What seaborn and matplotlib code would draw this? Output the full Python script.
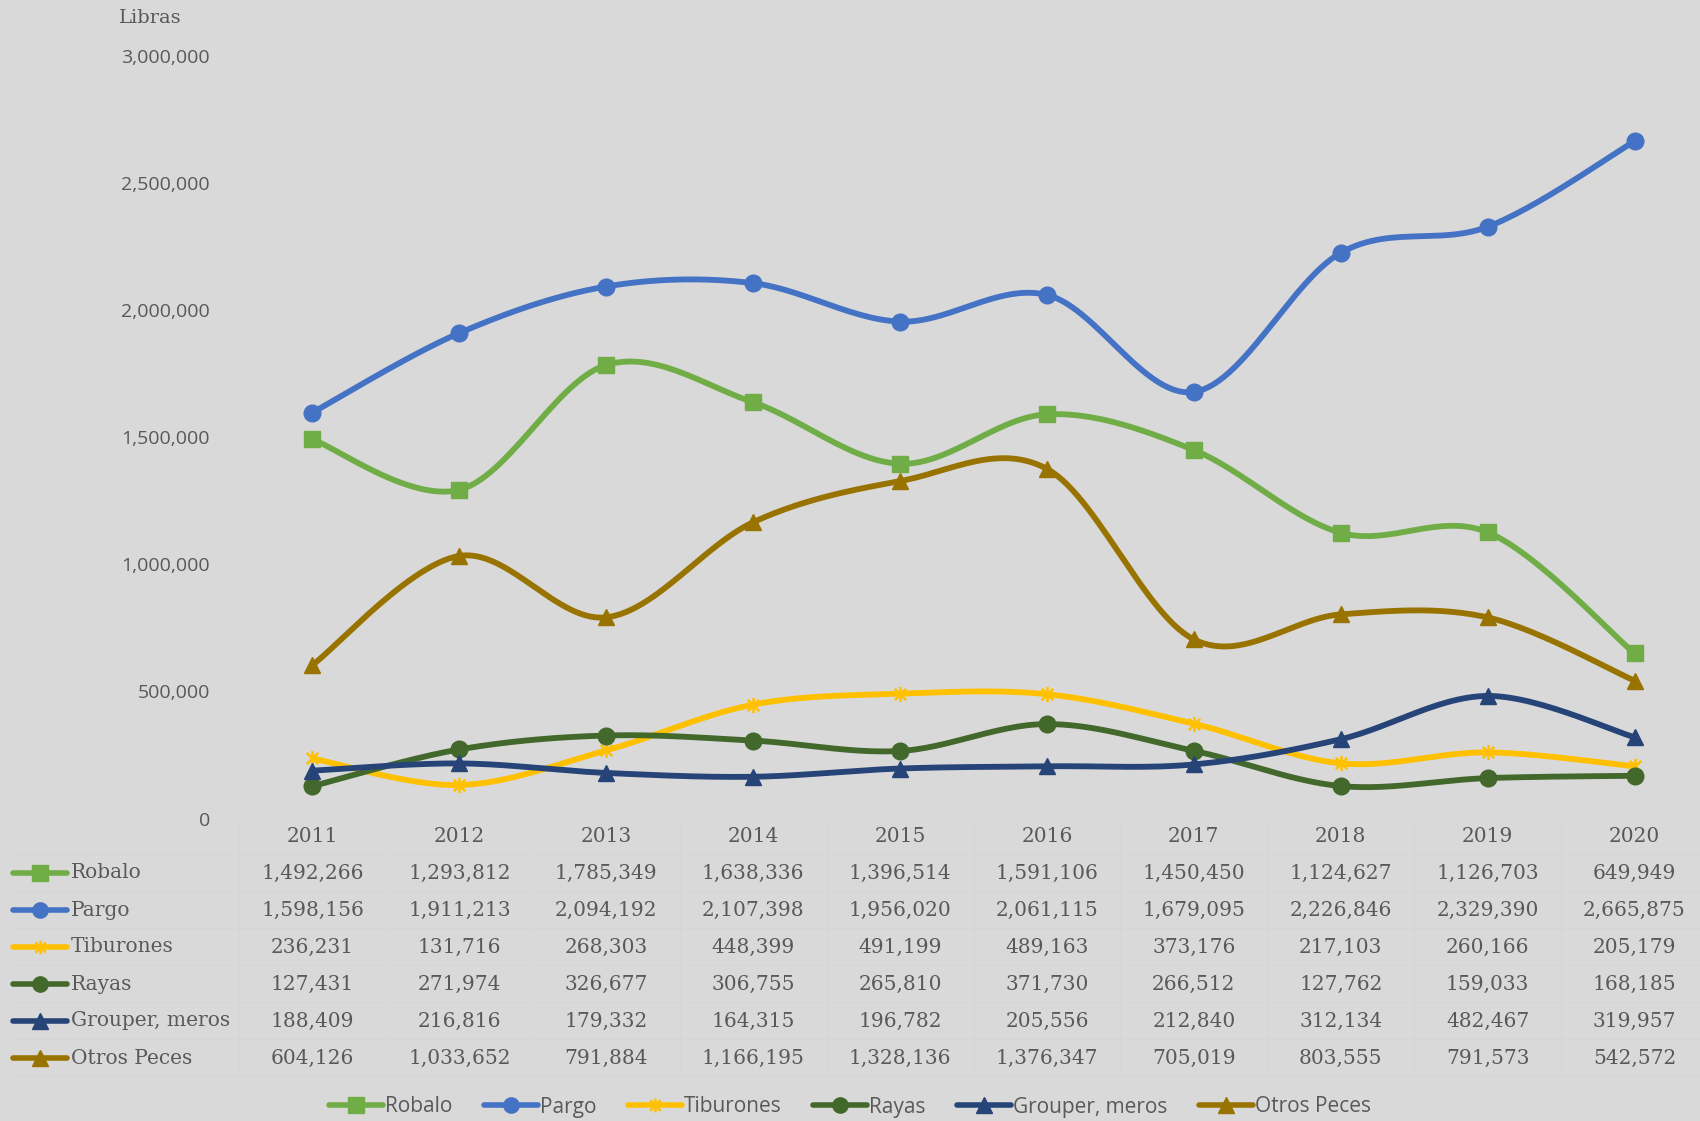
import numpy as np
import pandas as pd
import matplotlib
matplotlib.use("Agg")
import matplotlib.pyplot as plt
import matplotlib.transforms as mtrans
from matplotlib.lines import Line2D
from matplotlib.path import Path
import seaborn as sb

# data
years = [2011, 2012, 2013, 2014, 2015, 2016, 2017, 2018, 2019, 2020]
robalo = [1492266, 1293812, 1785349, 1638336, 1396514, 1591106, 1450450, 1124627, 1126703, 649949]
pargo = [1598156, 1911213, 2094192, 2107398, 1956020, 2061115, 1679095, 2226846, 2329390, 2665875]
tiburones = [236231, 131716, 268303, 448399, 491199, 489163, 373176, 217103, 260166, 205179]
rayas = [127431, 271974, 326677, 306755, 265810, 371730, 266512, 127762, 159033, 168185]
grouper = [188409, 216816, 179332, 164315, 196782, 205556, 212840, 312134, 482467, 319957]
otros = [604126, 1033652, 791884, 1166195, 1328136, 1376347, 705019, 803555, 791573, 542572]

series_names = ["Robalo", "Pargo", "Tiburones", "Rayas", "Grouper, meros", "Otros Peces"]
series_vals = [robalo, pargo, tiburones, rayas, grouper, otros]
y_ticks = [0, 500000, 1000000, 1500000, 2000000, 2500000, 3000000]

# excel-like asterisk marker
star = Path([(0, -1), (0, 1), (-0.75, -0.75), (0.75, 0.75), (-0.75, 0.75), (0.75, -0.75)],
            [Path.MOVETO, Path.LINETO] * 3)

colors = ["#70AD47", "#4472C4", "#FFC000", "#43682B", "#264478", "#997300"]
markers = ["s", "o", star, "o", "^", "^"]

BG = "#D9D9D9"
TXT = "#595959"
W, H = 1700, 1121


def smooth(xs, ys, n=30):
    # catmull-rom bezier, like excel's smoothed line
    xs = np.asarray(xs, float)
    ys = np.asarray(ys, float)
    px = np.concatenate([[xs[0]], xs, [xs[-1]]])
    py = np.concatenate([[ys[0]], ys, [ys[-1]]])
    outx, outy = [], []
    t = np.linspace(0, 1, n)
    for i in range(1, len(px) - 2):
        p0x, p1x, p2x, p3x = px[i - 1], px[i], px[i + 1], px[i + 2]
        p0y, p1y, p2y, p3y = py[i - 1], py[i], py[i + 1], py[i + 2]
        c1x, c1y = p1x + (p2x - p0x) / 6, p1y + (p2y - p0y) / 6
        c2x, c2y = p2x - (p3x - p1x) / 6, p2y - (p3y - p1y) / 6
        bx = (1 - t) ** 3 * p1x + 3 * (1 - t) ** 2 * t * c1x + 3 * (1 - t) * t ** 2 * c2x + t ** 3 * p2x
        by = (1 - t) ** 3 * p1y + 3 * (1 - t) ** 2 * t * c1y + 3 * (1 - t) * t ** 2 * c2y + t ** 3 * p2y
        outx.extend(bx)
        outy.extend(by)
    return np.array(outx), np.array(outy)


sb.set_style("white")
plt.rcParams["font.family"] = ["Open Sans", "DejaVu Sans"]

fig = plt.figure(figsize=(17, 11.21), dpi=100, facecolor=BG)
x0, x1 = 239, 1700
y_bot, y_top = 818.5, 56.4
ax = fig.add_axes([x0 / W, 1 - y_bot / H, (x1 - x0) / W, (y_bot - y_top) / H])
ax.set_facecolor(BG)

xpos = np.arange(len(years))
step = 146.9
for name, vals, c, m in zip(series_names, series_vals, colors, markers):
    sx, sy = smooth(xpos, vals)
    df = pd.DataFrame({"x": sx, "y": sy})
    sb.lineplot(data=df, x="x", y="y", ax=ax, color=c, lw=4.2, sort=False,
                estimator=None, solid_capstyle="round")
    if m is star:
        ax.plot(xpos, vals, ls="none", marker=m, ms=11, mew=1.8, mec=c, mfc="none", zorder=5)
    else:
        ax.plot(xpos, vals, ls="none", marker=m, ms=12, mfc=c, mec=c, zorder=5)

ax.set_xlim(-0.5, (x1 - x0) / step - 0.5)
ax.set_ylim(0, 3000000)
ax.set_yticks(y_ticks)
ax.set_yticklabels([f"{v:,}" for v in y_ticks], fontsize=14, color=TXT)
ax.tick_params(axis="y", length=0, pad=21)
ax.set_xticks([])
ax.set_xlabel("")
ax.set_ylabel("")
for s in ax.spines.values():
    s.set_visible(False)

fig.text(119 / W, 1 - 18 / H, "Libras", fontsize=14, color=TXT,
         family="DejaVu Serif", ha="left", va="center")

# data table
tr = mtrans.blended_transform_factory(ax.transData, fig.transFigure)
serif = "DejaVu Serif"
fy = lambda p: 1 - p / H
for i, yr in enumerate(years):
    ax.text(i, fy(836), str(yr), transform=tr, ha="center", va="center",
            fontsize=14.5, color=TXT, family=serif, clip_on=False)

row_y = [873, 910, 947, 984, 1021, 1058]
for name, vals, c, m, ry in zip(series_names, series_vals, colors, markers, row_y):
    fig.add_artist(Line2D([13 / W, 67 / W], [fy(ry), fy(ry)], color=c, lw=4,
                          solid_capstyle="round"))
    if m is star:
        fig.add_artist(Line2D([40 / W], [fy(ry)], marker=m, ms=10, mew=1.8, mec=c,
                              mfc="none", ls="none"))
    else:
        fig.add_artist(Line2D([40 / W], [fy(ry)], marker=m, ms=11, mfc=c, mec=c, ls="none"))
    fig.text(71 / W, fy(ry), name, ha="left", va="center", fontsize=14.5,
             color=TXT, family=serif)
    for i, v in enumerate(vals):
        ax.text(i, fy(ry), f"{v:,}", transform=tr, ha="center", va="center",
                fontsize=14.5, color=TXT, family=serif, clip_on=False)

# faint table grid
grid_c = "#D5D5D5"
for k in range(len(years) + 1):
    xl = (x0 + k * step) / W
    fig.add_artist(Line2D([xl, xl], [fy(818.5), fy(1076)], color=grid_c, lw=0.7))
for yb in [854, 891, 928, 965, 1002, 1039, 1076]:
    fig.add_artist(Line2D([10 / W, 1], [fy(yb), fy(yb)], color=grid_c, lw=0.7))

# bottom legend
handles = []
for name, c, m in zip(series_names, colors, markers):
    if m is star:
        handles.append(Line2D([], [], color=c, lw=4, marker=m, ms=10, mew=1.8,
                              mec=c, mfc="none", label=name))
    else:
        handles.append(Line2D([], [], color=c, lw=4, marker=m, ms=11, mfc=c, mec=c, label=name))
leg = fig.legend(handles=handles, loc="center", bbox_to_anchor=(0.5, fy(1107)),
                 ncol=6, frameon=False, fontsize=15, handlelength=2.6,
                 handletextpad=0.1, columnspacing=1.5)
for t in leg.get_texts():
    t.set_color(TXT)

fig.savefig("out.png", dpi=100, facecolor=BG)
